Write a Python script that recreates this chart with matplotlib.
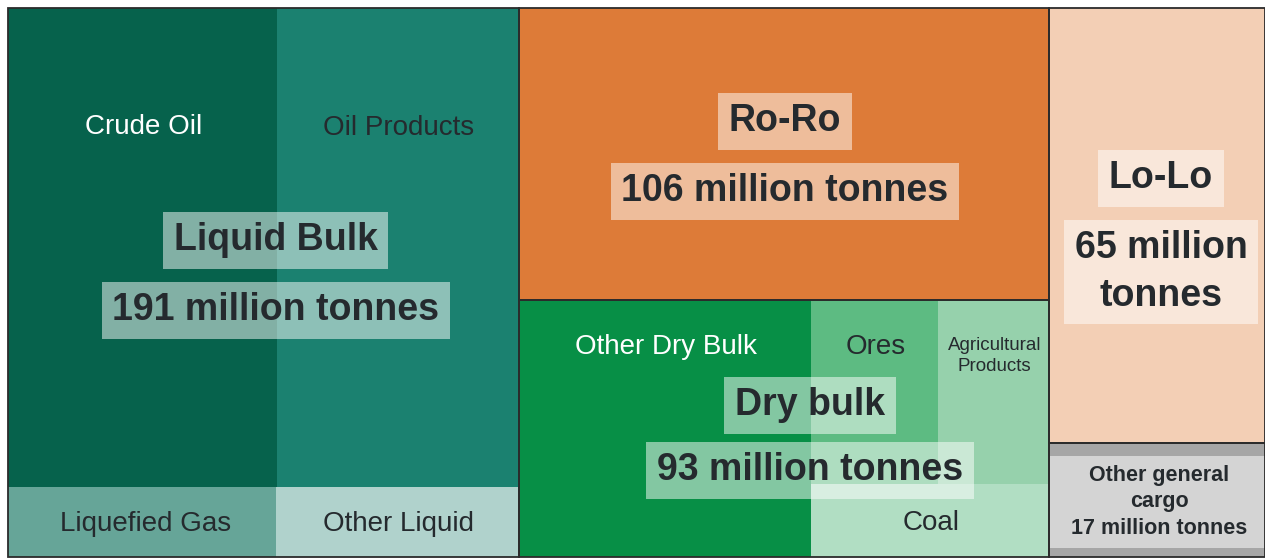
import matplotlib.pyplot as plt
from matplotlib.patches import Rectangle

plt.rcParams['font.family'] = ['Liberation Sans', 'DejaVu Sans']

# top level groups (million tonnes)
groups = ["Liquid Bulk", "Ro-Ro", "Dry bulk", "Lo-Lo", "Other general cargo"]
group_vals = [191.9, 106.0, 93.0, 64.2, 16.9]
group_totals = ["191 million tonnes", "106 million tonnes", "93 million tonnes",
                "65 million\ntonnes", "17 million tonnes"]
group_cols = ["#06624c", "#dd7b38", "#078f46", "#f3cfb5", "#a6a6a6"]

# sub categories
liquid_names = ["Crude Oil", "Oil Products", "Liquefied Gas", "Other Liquid"]
liquid_vals = [88.1, 79.4, 12.8, 11.6]
liquid_cols = ["#06624c", "#1b8170", "#66a598", "#b0d2cc"]
liquid_txt = ["white", "#252a2e", "#252a2e", "#252a2e"]

dry_names = ["Other Dry Bulk", "Ores", "Agricultural\nProducts", "Coal"]
dry_vals = [51.2, 16.0, 13.9, 11.9]
dry_cols = ["#078f46", "#5dbb82", "#96d1ac", "#b1dec3"]
dry_txt = ["white", "#252a2e", "#252a2e", "#252a2e"]

# canvas (pixels)
X0, Y0, W, H = 8, 8, 1257, 549
dark = "#252a2e"


def split(x, y, w, h, vals, horizontal):
    # cut a rectangle into strips proportional to vals
    tot = sum(vals)
    out = []
    for v in vals:
        if horizontal:
            ww = w * v / tot
            out.append((x, y, ww, h))
            x += ww
        else:
            hh = h * v / tot
            out.append((x, y, w, hh))
            y += hh
    return out


fig = plt.figure(figsize=(12.65, 5.58), dpi=100)
ax = fig.add_axes([0, 0, 1, 1])
ax.set_xlim(0, 1265)
ax.set_ylim(558, 0)
ax.axis("off")

# columns: [Liquid] [Ro-Ro, Dry] [Lo-Lo, Other]
col_groups = [[0], [1, 2], [3, 4]]
cols = split(X0, Y0, W, H, [sum(group_vals[i] for i in c) for c in col_groups], True)
grect = {}
for c, r in zip(col_groups, cols):
    for i, rr in zip(c, split(*r, [group_vals[i] for i in c], False)):
        grect[i] = rr

for i, r in grect.items():
    ax.add_patch(Rectangle(r[:2], r[2], r[3], fc=group_cols[i], ec="none"))

# liquid bulk: two rows
x, y, w, h = grect[0]
rows = split(x, y, w, h, [liquid_vals[0] + liquid_vals[1], liquid_vals[2] + liquid_vals[3]], False)
lrect = split(*rows[0], liquid_vals[:2], True) + split(*rows[1], liquid_vals[2:], True)

# dry bulk: left column + right column (two rows)
x, y, w, h = grect[2]
dcols = split(x, y, w, h, [dry_vals[0], sum(dry_vals[1:])], True)
drows = split(*dcols[1], [dry_vals[1] + dry_vals[2], dry_vals[3]], False)
drect = [dcols[0]] + split(*drows[0], dry_vals[1:3], True) + [drows[1]]

for rects, colors in [(lrect, liquid_cols), (drect, dry_cols)]:
    for r, c in zip(rects, colors):
        ax.add_patch(Rectangle(r[:2], r[2], r[3], fc=c, ec="none"))

# other general cargo inner panel
x, y, w, h = grect[4]
ax.add_patch(Rectangle((x, y + 13), w, h - 22, fc="#d4d4d4", ec="none"))

# group outlines
for r in grect.values():
    ax.add_patch(Rectangle(r[:2], r[2], r[3], fc="none", ec="#2b2b2b", lw=1.3))

# sub labels (y in pixels)
liquid_y = [127, 128, 524, 524]
dry_y = [347, 347, 356, 523]
for rects, names, tc, ys in [(lrect, liquid_names, liquid_txt, liquid_y),
                             (drect, dry_names, dry_txt, dry_y)]:
    for r, n, c, yy in zip(rects, names, tc, ys):
        fs = 13.5 if "\n" in n else 20
        dx = 4 if n == "Liquefied Gas" else 1
        ax.text(r[0] + r[2] / 2 + dx, yy, n, ha="center", va="center", fontsize=fs,
                color=c, linespacing=1.3)

# group labels with translucent boxes (x shift, y of name, y of total)
box = dict(boxstyle="square,pad=0.28", fc=(1, 1, 1, 0.5), ec="none")
lbl_pos = {0: (12, 240, 310), 1: (1, 121, 191), 2: (26, 405, 470), 3: (4, 178, 272)}
for i, (dx, y1, y2) in lbl_pos.items():
    r = grect[i]
    cx = r[0] + r[2] / 2 + dx
    ax.text(cx, y1, groups[i], ha="center", va="center", fontsize=27,
            fontweight="bold", color=dark, bbox=box, clip_on=True)
    ax.text(cx, y2, group_totals[i], ha="center", va="center", fontsize=27,
            fontweight="bold", color=dark, bbox=box, linespacing=1.4,
            clip_on=True)

r = grect[4]
ax.text(r[0] + r[2] / 2 + 2, 502, "Other general\ncargo\n" + group_totals[4],
        ha="center", va="center", fontsize=15.5, fontweight="bold", color=dark,
        linespacing=1.35)

fig.savefig("out.png", dpi=100)
